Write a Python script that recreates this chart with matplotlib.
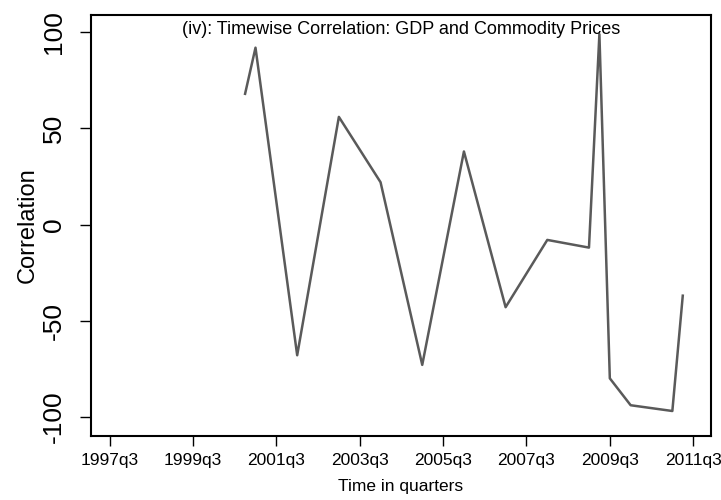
import matplotlib
matplotlib.use("Agg")
import matplotlib.pyplot as plt

plt.rcParams['font.family'] = ['Liberation Sans', 'DejaVu Sans']

# quarters and correlation values
quarters = ["2000q4", "2001q1", "2002q1", "2003q1", "2004q1", "2005q1", "2006q1",
            "2007q1", "2008q1", "2009q1", "2009q2", "2009q3", "2010q1", "2011q1", "2011q2"]
corr = [68, 92, -68, 56, 22, -73, 38, -43, -8, -12, 99, -80, -94, -97, -37]

tick_labels = ["1997q3", "1999q3", "2001q3", "2003q3", "2005q3", "2007q3", "2009q3", "2011q3"]
y_ticks = [-100, -50, 0, 50, 100]


def tq(s):
    # quarters since 1960q1, like Stata
    y, q = s.split("q")
    return (int(y) - 1960) * 4 + int(q) - 1


x = [tq(s) for s in quarters]
xt = [tq(s) for s in tick_labels]

fig = plt.figure(figsize=(7.21, 5), dpi=100)
ax = fig.add_axes([0.126, 0.128, 0.86, 0.842])

ax.plot(x, corr, color='#5a5a5a', lw=1.8)

ax.set_xlim(xt[0] - 1.8, xt[-1] + 1.7)
ax.set_ylim(-110, 109)
ax.set_xticks(xt)
ax.set_xticklabels(tick_labels, fontsize=12.5)
ax.set_yticks(y_ticks)
ax.set_yticklabels([str(v) for v in y_ticks], fontsize=19, rotation=90, va='center')
ax.tick_params(axis='x', length=7.5, width=1, color='black', pad=5)
ax.tick_params(axis='y', length=8, width=1, color='black', pad=10)
for sp in ax.spines.values():
    sp.set_linewidth(1.5)

ax.set_ylabel("Correlation", fontsize=17, labelpad=2)
ax.set_xlabel("Time in quarters", fontsize=12.5, labelpad=8)
ax.text(0.5, 0.985, "(iv): Timewise Correlation: GDP and Commodity Prices",
        transform=ax.transAxes, ha='center', va='top', fontsize=13)

fig.savefig("out.png", dpi=100)
